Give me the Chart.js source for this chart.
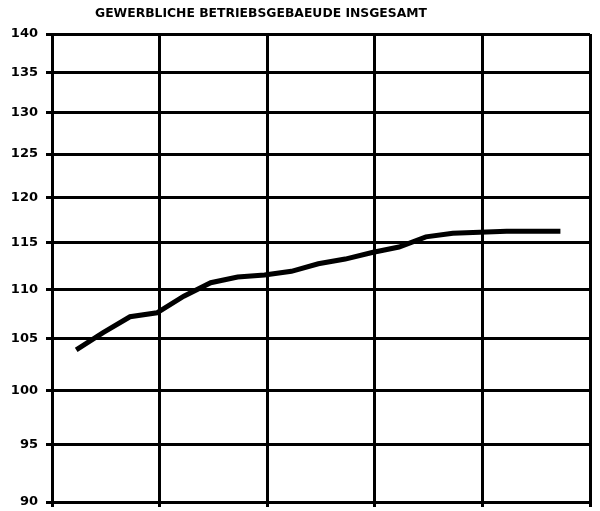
<!DOCTYPE html>
<html>
<head>
<meta charset="utf-8">
<script src="https://cdn.jsdelivr.net/npm/chart.js@4/dist/chart.umd.min.js"></script>
<style>
  html, body { margin: 0; padding: 0; background: #fff; }
  #wrap { width: 600px; height: 511px; }
</style>
</head>
<body>
<div id="wrap"><canvas id="chart"></canvas></div>
<script>
// quarterly index, log scale
var quarters = [1,2,3,4,5,6,7,8,9,10,11,12,13,14,15,16,17,18,19];
var values = [103.9,105.6,107.2,107.6,109.3,110.7,111.3,111.5,111.9,112.7,113.2,113.9,114.5,115.6,116.0,116.1,116.2,116.2,116.2];
var yTicks = [90,95,100,105,110,115,120,125,130,135,140];
var xGrid = [0.1,4.1,8.1,12.1,16.1,20.1];
var title = "GEWERBLICHE BETRIEBSGEBAEUDE INSGESAMT";

var pts = quarters.map(function(q, i){ return {x: q, y: values[i]}; });

// title drawn a bit stretched, like the plotter font
var titlePlugin = {
  id: 'plotTitle',
  afterDraw: function(chart){
    var ctx = chart.ctx;
    ctx.save();
    ctx.font = 'bold 12px "DejaVu Sans"';
    ctx.fillStyle = '#000';
    ctx.textBaseline = 'middle';
    ctx.textAlign = 'left';
    var w = ctx.measureText(title).width;
    var sx = 332 / w;
    ctx.translate(95, 14);
    ctx.scale(sx, 1);
    ctx.fillText(title, 0, 0);
    ctx.restore();
  }
};

new Chart(document.getElementById("chart"), {
  type: 'line',
  data: {
    datasets: [{
      data: pts,
      borderColor: '#000',
      borderWidth: 5,
      pointRadius: 0,
      tension: 0,
      fill: false
    }]
  },
  options: {
    responsive: true,
    maintainAspectRatio: false,
    animation: false,
    layout: { padding: { top: 34, right: 10, left: 0, bottom: 0 } },
    plugins: { legend: { display: false }, tooltip: { enabled: false } },
    scales: {
      x: {
        type: 'linear',
        min: 0.1,
        max: 20.1,
        afterBuildTicks: function(scale){ scale.ticks = xGrid.map(function(v){ return {value: v}; }); },
        afterFit: function(scale){ scale.height = 9; scale.paddingLeft = 0; scale.paddingRight = 0; },
        grid: { color: '#000', lineWidth: 3, tickLength: 5, drawTicks: true },
        border: { color: '#000', width: 3 },
        ticks: { display: false }
      },
      y: {
        type: 'logarithmic',
        min: 90,
        max: 140,
        afterBuildTicks: function(scale){ scale.ticks = yTicks.map(function(v){ return {value: v}; }); },
        afterFit: function(scale){ scale.width = 52; scale.paddingTop = 0; scale.paddingBottom = 0; },
        grid: { color: '#000', lineWidth: 3, tickLength: 6 },
        border: { color: '#000', width: 3 },
        ticks: {
          color: '#000',
          padding: 8,
          font: { family: '"DejaVu Sans"', weight: 'bold', size: 13 },
          callback: function(v){ return String(v); }
        }
      }
    }
  },
  plugins: [titlePlugin]
});
</script>
</body>
</html>
